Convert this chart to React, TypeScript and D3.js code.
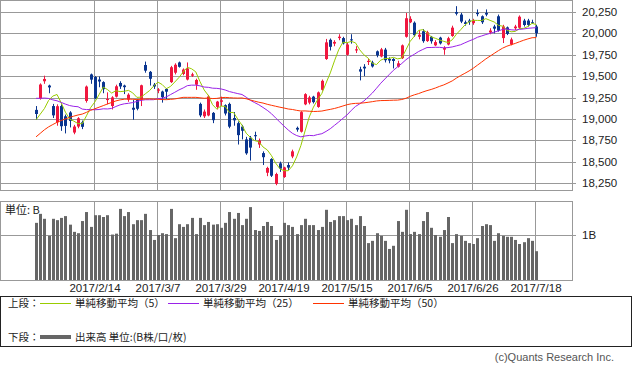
import * as d3 from "d3";

// 2016/11/10 - 2017/1/24: closes used only to seed the moving averages
const priorCloses = [
  17344, 17374, 17672, 17668, 17862, 17862, 17967, 18106, 18162, 18333, 18381, 18356, 18307, 18308,
  18513, 18426, 18274, 18360, 18496, 18765, 18996, 19155, 19250, 19253, 19273, 19401, 19391, 19494,
  19444, 19427, 19396, 19403, 19401, 19145, 19114,
  19594, 19520, 19454, 19301, 19364, 19134, 19287, 19095, 18813, 18894, 19072, 19137, 18891, 18787,
];

const dates = [
  "2017/1/25", "2017/1/26", "2017/1/27", "2017/1/30", "2017/1/31",
  "2017/2/1", "2017/2/2", "2017/2/3", "2017/2/6", "2017/2/7", "2017/2/8", "2017/2/9", "2017/2/10",
  "2017/2/13", "2017/2/14", "2017/2/15", "2017/2/16", "2017/2/17", "2017/2/20", "2017/2/21",
  "2017/2/22", "2017/2/23", "2017/2/24", "2017/2/27", "2017/2/28",
  "2017/3/1", "2017/3/2", "2017/3/3", "2017/3/6", "2017/3/7", "2017/3/8", "2017/3/9", "2017/3/10",
  "2017/3/13", "2017/3/14", "2017/3/15", "2017/3/16", "2017/3/17", "2017/3/21", "2017/3/22",
  "2017/3/23", "2017/3/24", "2017/3/27", "2017/3/28", "2017/3/29", "2017/3/30", "2017/3/31",
  "2017/4/3", "2017/4/4", "2017/4/5", "2017/4/6", "2017/4/7", "2017/4/10", "2017/4/11", "2017/4/12",
  "2017/4/13", "2017/4/14", "2017/4/17", "2017/4/18", "2017/4/19", "2017/4/20", "2017/4/21",
  "2017/4/24", "2017/4/25", "2017/4/26", "2017/4/27", "2017/4/28",
  "2017/5/1", "2017/5/2", "2017/5/8", "2017/5/9", "2017/5/10", "2017/5/11", "2017/5/12", "2017/5/15",
  "2017/5/16", "2017/5/17", "2017/5/18", "2017/5/19", "2017/5/22", "2017/5/23", "2017/5/24",
  "2017/5/25", "2017/5/26", "2017/5/29", "2017/5/30", "2017/5/31",
  "2017/6/1", "2017/6/2", "2017/6/5", "2017/6/6", "2017/6/7", "2017/6/8", "2017/6/9", "2017/6/12",
  "2017/6/13", "2017/6/14", "2017/6/15", "2017/6/16", "2017/6/19", "2017/6/20", "2017/6/21",
  "2017/6/22", "2017/6/23", "2017/6/26", "2017/6/27", "2017/6/28", "2017/6/29", "2017/6/30",
  "2017/7/3", "2017/7/4", "2017/7/5", "2017/7/6", "2017/7/7", "2017/7/10", "2017/7/11", "2017/7/12",
  "2017/7/13", "2017/7/14", "2017/7/18",
];

const opens = [
  19105, 19240, 19440, 19390, 19150, 18960, 19150, 19030, 19075, 18840, 18910, 18960, 19210,
  19520, 19490, 19460, 19430, 19220, 19150, 19260, 19420, 19390, 19225, 19130, 19220,
  19225, 19630, 19550, 19400, 19330, 19320, 19350, 19430, 19540, 19660, 19525, 19460, 19505, 19400,
  19175, 19030, 19040, 19070, 19140, 19200, 19160, 19175,
  19010, 18950, 18910, 18760, 18780, 18810, 18700, 18600, 18370, 18530, 18240, 18480, 18320, 18460,
  18560, 18895, 18850, 19170, 19190, 19260,
  19140, 19340, 19700, 19925, 19880, 19945, 19945, 19750, 19930, 19800, 19580, 19610, 19665, 19660,
  19790, 19730, 19810, 19700, 19700, 19610,
  19710, 19960, 20130, 20125, 19960, 20025, 19910, 19960, 19860, 19950, 19810, 19870, 19970, 20250,
  20220, 20130, 20150, 20120, 20240, 20200, 20240, 20010,
  20080, 20200, 19945, 20070, 19870, 20060, 20066, 20150, 20150, 20130, 20080,
];

const highs = [
  19150, 19415, 19505, 19400, 19175, 19170, 19170, 19050, 19090, 18930, 19020, 18980, 19390,
  19530, 19500, 19495, 19440, 19310, 19265, 19400, 19440, 19400, 19300, 19220, 19230,
  19400, 19670, 19560, 19420, 19360, 19330, 19360, 19620, 19650, 19670, 19590, 19660, 19540, 19470,
  19190, 19110, 19280, 19080, 19210, 19260, 19170, 19190,
  19080, 18970, 18930, 18790, 18800, 18850, 18770, 18620, 18440, 18540, 18370, 18500, 18440, 18490,
  18640, 18910, 19090, 19300, 19270, 19270,
  19320, 19460, 19935, 19940, 19920, 19990, 19960, 19890, 19990, 19850, 19610, 19640, 19700, 19680,
  19800, 19830, 19830, 19720, 19710, 19680,
  19870, 20239, 20200, 20140, 20040, 20050, 20030, 19970, 19920, 19960, 19850, 19960, 20090, 20318,
  20240, 20150, 20170, 20170, 20280, 20210, 20280, 20060,
  20100, 20220, 20100, 20080, 19950, 20100, 20210, 20170, 20170, 20160, 20100,
];

const lows = [
  18990, 19225, 19410, 19300, 19010, 18920, 18860, 18830, 18900, 18820, 18890, 18880, 19190,
  19410, 19230, 19370, 19300, 19170, 19110, 19250, 19350, 19290, 19200, 18990, 19100,
  19150, 19540, 19390, 19350, 19300, 19190, 19230, 19420, 19520, 19600, 19510, 19450, 19490, 19340,
  19020, 19010, 19030, 18950, 19110, 19150, 19040, 18890,
  18920, 18700, 18760, 18580, 18512, 18750, 18660, 18460, 18330, 18320, 18224, 18380, 18310, 18400,
  18540, 18850, 18840, 19160, 19170, 19180,
  19130, 19330, 19690, 19800, 19850, 19920, 19870, 19740, 19880, 19770, 19450, 19500, 19630, 19600,
  19720, 19720, 19660, 19650, 19590, 19600,
  19700, 19950, 20120, 19960, 19930, 19890, 19900, 19880, 19850, 19870, 19750, 19860, 19960, 20210,
  20120, 20090, 20100, 20100, 20200, 20110, 20200, 19990,
  20000, 20020, 19887, 19980, 19860, 20040, 20050, 20080, 20080, 20110, 19960,
];

const closes = [
  19057, 19402, 19467, 19368, 19041, 19148, 18914, 18918, 18976, 18910, 19007, 18907, 19378,
  19459, 19238, 19437, 19347, 19234, 19251, 19381, 19379, 19371, 19283, 19107, 19118,
  19393, 19564, 19469, 19379, 19344, 19254, 19318, 19604, 19633, 19609, 19577, 19590, 19521, 19455,
  19041, 19085, 19262, 18985, 19202, 19217, 19063, 18909,
  18983, 18810, 18861, 18597, 18664, 18797, 18747, 18552, 18426, 18335, 18355, 18418, 18432, 18430,
  18620, 18875, 19079, 19289, 19251, 19196,
  19310, 19445, 19895, 19843, 19900, 19961, 19883, 19869, 19919, 19814, 19553, 19590, 19678, 19613,
  19742, 19813, 19686, 19682, 19677, 19650,
  19860, 20177, 20170, 19979, 19984, 19909, 20013, 19908, 19898, 19883, 19831, 19943, 20067, 20230,
  20138, 20110, 20132, 20153, 20225, 20130, 20220, 20033,
  20055, 20032, 20081, 19994, 19929, 20080, 20195, 20098, 20099, 20118, 20000,
];

// volume, B (billion shares)
const volumes = [
  1.27, 1.47, 1.36, 0.98, 1.36, 1.33, 1.38, 1.42, 1.23, 1.07, 1.04, 1.31, 1.51, 1.18, 1.44,
  1.44, 1.4, 1.44, 1.01, 1.03, 1.58, 1.42, 1.51, 1.24, 1.33, 1.33, 1.47, 1.11, 0.89, 1.0,
  1.04, 1.02, 1.58, 0.93, 1.24, 1.18, 1.24, 1.38, 1.02, 1.38, 1.22, 1.29, 1.23, 1.24, 1.16,
  1.27, 1.51, 1.36, 1.49, 1.22, 1.36, 1.62, 1.11, 1.09, 1.2, 1.29, 1.2, 0.89, 0.98, 1.27,
  1.22, 1.18, 1.02, 1.22, 1.36, 1.22, 1.22, 1.11, 1.18, 1.56, 1.29, 1.33, 1.42, 1.42, 1.33,
  1.36, 1.22, 1.42, 1.2, 0.82, 0.87, 1.04, 0.98, 0.87, 0.69, 0.76, 1.31, 1.07, 1.56, 1.02,
  1.07, 1.02, 1.31, 1.51, 1.16, 1.0, 0.96, 1.11, 1.4, 0.82, 1.02, 0.98, 0.87, 0.82, 0.8,
  0.93, 1.2, 1.24, 1.22, 0.87, 1.04, 0.98, 0.96, 0.96, 0.89, 0.8, 0.84, 0.93, 0.87, 0.64,
];

const dateTicks = ["2017/2/14", "2017/3/7", "2017/3/29", "2017/4/19", "2017/5/15", "2017/6/5", "2017/6/26", "2017/7/18"];
const priceTicks = [18250, 18500, 18750, 19000, 19250, 19500, 19750, 20000, 20250];
const volumeTicks = [1];

const maSeries = [
  { n: 5, label: "単純移動平均（5）", color: "#99cc00" },
  { n: 25, label: "単純移動平均（25）", color: "#9a22e8" },
  { n: 50, label: "単純移動平均（50）", color: "#ff3300" },
];

const UP = "#f0173f";
const DOWN = "#0a358f";
const GRID = "#999999";
const JP = "'Noto Sans CJK JP', 'DejaVu Sans', sans-serif";
const NUM = "'Liberation Sans', Arial, sans-serif";

export default function App() {
  const width = 633;
  const height = 367;
  const plotRight = 572;
  const mainTop = 0, mainBottom = 190;
  const volTop = 201, volBottom = 280;
  const legendX = [40, 168, 313];

  const x = d3.scalePoint<string>().domain(dates).range([36, 536.3]);
  const y = d3.scaleLinear().domain([18250, 20250]).range([183, 12]);
  const yv = d3.scaleLinear().domain([0, 1]).range([volBottom, 235]);
  const px = (d: string) => Math.round(x(d) as number);

  const all = [...priorCloses, ...closes];
  const movingAvg = (n: number) =>
    closes.map((_, i) => {
      const j = i + priorCloses.length;
      return d3.mean(all.slice(j - n + 1, j + 1)) as number;
    });

  const line = d3
    .line<number>()
    .x((_, i) => x(dates[i]) as number)
    .y((d) => y(d));

  return (
    <div style={{ position: "absolute", left: 0, top: 0 }}>
      <svg width={width} height={height} style={{ display: "block", fontFamily: JP }}>
        <rect width={width} height={height} fill="#fff" />

        {/* upper panel grid */}
        {priceTicks.map((t) => (
          <g key={t}>
            <line x1={0} x2={576} y1={Math.round(y(t)) + 0.5} y2={Math.round(y(t)) + 0.5} stroke={GRID} />
            <text x={582} y={y(t) + 4} fontFamily={NUM} fontSize={11.5} fill="#222">
              {d3.format(",")(t)}
            </text>
          </g>
        ))}
        {dateTicks.map((d) => (
          <g key={d}>
            <line x1={px(d) - 0.5} x2={px(d) - 0.5} y1={mainTop} y2={mainBottom} stroke={GRID} />
            <line x1={px(d) - 0.5} x2={px(d) - 0.5} y1={volTop} y2={volBottom} stroke={GRID} />
            <text x={px(d)} y={292} textAnchor="middle" fontFamily={NUM} fontSize={11.5} fill="#222">
              {d}
            </text>
          </g>
        ))}
        <rect x={0.5} y={mainTop + 0.5} width={plotRight} height={mainBottom - mainTop} fill="none" stroke={GRID} />

        {/* candles */}
        {dates.map((d, i) => {
          const o = opens[i], c = closes[i];
          const color = c >= o ? UP : DOWN;
          const top = y(Math.max(o, c));
          const h = Math.max(1, Math.abs(y(o) - y(c)));
          return (
            <g key={d}>
              <line x1={px(d) + 0.5} x2={px(d) + 0.5} y1={y(highs[i])} y2={y(lows[i])} stroke={color} />
              <rect x={px(d) - 1} y={top} width={3} height={h} fill={color} />
            </g>
          );
        })}

        {/* moving averages */}
        {maSeries.map((m) => (
          <path key={m.n} d={line(movingAvg(m.n)) || ""} fill="none" stroke={m.color} strokeWidth={1} />
        ))}

        {/* volume panel */}
        {volumeTicks.map((t) => (
          <g key={t}>
            <line x1={0} x2={576} y1={Math.round(yv(t)) + 0.5} y2={Math.round(yv(t)) + 0.5} stroke={GRID} />
            <text x={582} y={yv(t) + 4} fontFamily={NUM} fontSize={11.5} fill="#222">
              {t}B
            </text>
          </g>
        ))}
        {dates.map((d, i) => (
          <rect key={d} x={px(d) - 1} y={yv(volumes[i])} width={3} height={volBottom - yv(volumes[i])} fill="#666" />
        ))}
        <rect x={0.5} y={volTop + 0.5} width={plotRight} height={volBottom - volTop} fill="none" stroke={GRID} />
        <text x={5} y={214} fontSize={11} fill="#222">
          単位: B
        </text>

        {/* legend */}
        <rect x={0.5} y={296.5} width={631} height={50} fill="none" stroke="#222" />
        <text x={8} y={307} fontSize={10.5} fill="#222">上段：</text>
        {maSeries.map((m, i) => (
          <g key={m.n}>
            <line x1={legendX[i]} x2={legendX[i] + 31} y1={303.5} y2={303.5} stroke={m.color} />
            <text x={legendX[i] + 35} y={307} fontSize={10.5} fill="#222">
              {m.label}
            </text>
          </g>
        ))}
        <text x={8} y={341} fontSize={10.5} fill="#222">下段：</text>
        <line x1={40} x2={71} y1={337} y2={337} stroke="#666" strokeWidth={4} />
        <text x={75} y={341} fontSize={10.5} fill="#222">
          出来高 単位:(B株/口/枚)
        </text>

        <text x={614} y={361} textAnchor="end" fontFamily={NUM} fontSize={11} fill="#555">
          (c)Quants Research Inc.
        </text>
      </svg>
    </div>
  );
}
